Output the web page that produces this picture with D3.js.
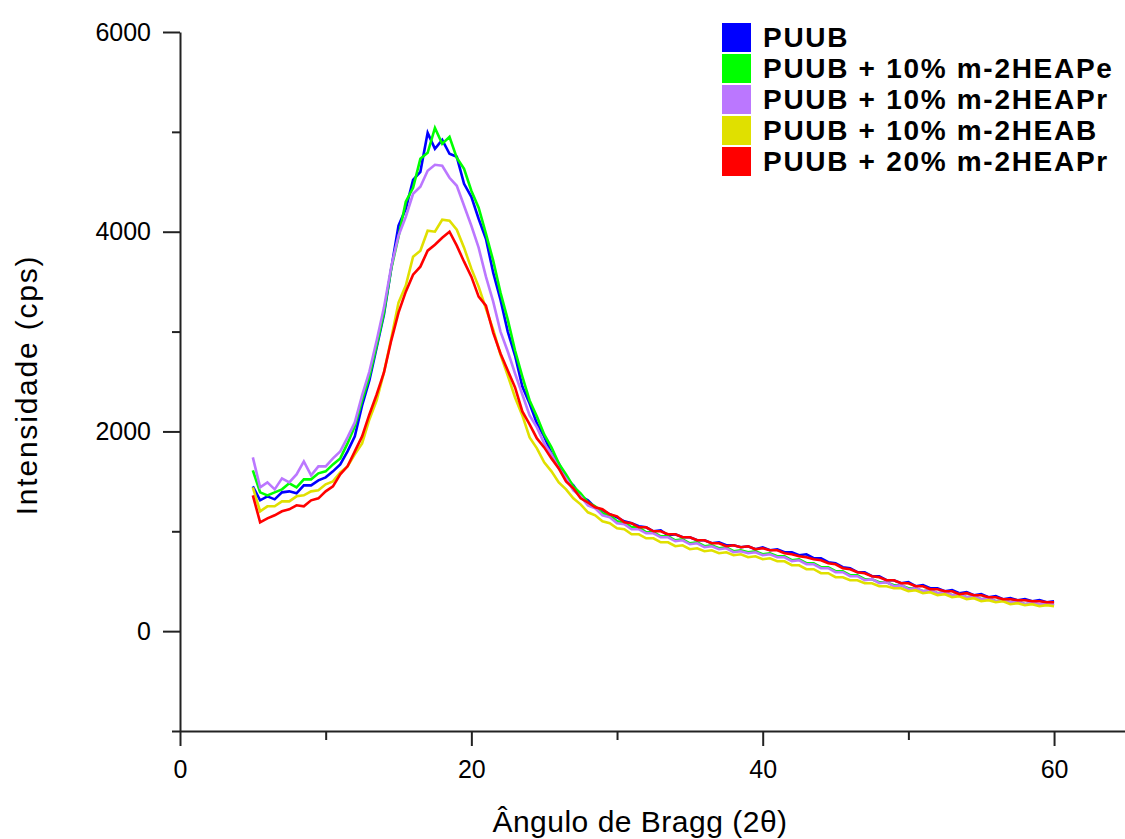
<!doctype html>
<html>
<head>
<meta charset="UTF-8">
<title>Difratograma PUUB</title>
<script src="https://d3js.org/d3.v7.min.js"></script>
<style>
  body { margin: 0; background: #fff; }
  svg text { font-family: "Liberation Sans", Arial, sans-serif; fill: #000; }
  .axis path, .axis line { stroke: #222; stroke-width: 2; }
</style>
</head>
<body>
<svg id="chart" width="1125" height="839"></svg>
<script>
// 2theta scan (degrees)
var angles = [
  5, 5.5, 6, 6.5, 7, 7.5, 8, 8.5, 9, 9.5,
  10, 10.5, 11, 11.5, 12, 12.5, 13, 13.5, 14, 14.5,
  15, 15.5, 16, 16.5, 17, 17.5, 18, 18.5, 19, 19.5,
  20, 20.5, 21, 21.5, 22, 22.5, 23, 23.5, 24, 24.5,
  25, 25.5, 26, 26.5, 27, 27.5, 28, 28.5, 29, 29.5,
  30, 30.5, 31, 31.5, 32, 32.5, 33, 33.5, 34, 34.5,
  35, 35.5, 36, 36.5, 37, 37.5, 38, 38.5, 39, 39.5,
  40, 40.5, 41, 41.5, 42, 42.5, 43, 43.5, 44, 44.5,
  45, 45.5, 46, 46.5, 47, 47.5, 48, 48.5, 49, 49.5,
  50, 50.5, 51, 51.5, 52, 52.5, 53, 53.5, 54, 54.5,
  55, 55.5, 56, 56.5, 57, 57.5, 58, 58.5, 59, 59.5,
  60
];

var names = ["PUUB", "PUUB + 10% m-2HEAPe", "PUUB + 10% m-2HEAPr", "PUUB + 10% m-2HEAB", "PUUB + 20% m-2HEAPr"];
var colors = ["#0000ff", "#00ff00", "#bb77ff", "#e0e000", "#ff0000"];

var puub = [
  1450, 1310, 1350, 1320, 1390, 1400, 1380, 1460, 1460, 1510,
  1540, 1600, 1670, 1800, 1950, 2260, 2510, 2840, 3170, 3630,
  4060, 4230, 4520, 4600, 4990, 4830, 4920, 4780, 4750, 4480,
  4350, 4130, 3930, 3590, 3320, 3000, 2760, 2450, 2280, 2080,
  1950, 1780, 1680, 1530, 1460, 1350, 1310, 1240, 1210, 1170,
  1140, 1100, 1080, 1050, 1040, 1000, 1010, 960, 970, 940,
  940, 910, 910, 880, 890, 860, 860, 840, 850, 820,
  840, 810, 820, 790, 790, 760, 770, 730, 730, 690,
  680, 640, 630, 590, 590, 550, 550, 510, 510, 480,
  490, 450, 460, 430, 430, 400, 410, 380, 390, 360,
  370, 340, 350, 320, 330, 310, 320, 300, 310, 290,
  300
];
var heape10 = [
  1610, 1390, 1360, 1390, 1420, 1480, 1440, 1520, 1520, 1580,
  1600, 1670, 1730, 1880, 2050, 2310, 2550, 2860, 3190, 3630,
  3950, 4300, 4440, 4730, 4790, 5040, 4880, 4950, 4740, 4630,
  4410, 4240, 3980, 3710, 3390, 3120, 2810, 2550, 2310, 2150,
  1970, 1840, 1680, 1570, 1450, 1380, 1290, 1250, 1180, 1160,
  1100, 1090, 1040, 1040, 990, 990, 950, 950, 910, 920,
  880, 890, 850, 860, 830, 840, 800, 810, 790, 800,
  770, 780, 750, 750, 710, 720, 680, 680, 640, 640,
  600, 600, 560, 560, 520, 520, 490, 490, 460, 460,
  430, 430, 400, 410, 380, 390, 360, 370, 340, 350,
  320, 330, 300, 310, 290, 300, 270, 280, 260, 270,
  260
];
var heapr10 = [
  1740, 1440, 1490, 1420, 1530, 1490, 1570, 1700, 1560, 1650,
  1650, 1730, 1800, 1940, 2090, 2360, 2600, 2910, 3240, 3650,
  3960, 4150, 4380, 4450, 4610, 4670, 4660, 4540, 4460, 4260,
  4060, 3840, 3550, 3300, 3000, 2800, 2580, 2370, 2160, 2040,
  1880, 1770, 1630, 1530, 1410, 1350, 1260, 1230, 1160, 1140,
  1080, 1070, 1020, 1020, 980, 980, 940, 940, 900, 910,
  870, 880, 840, 850, 820, 830, 790, 800, 780, 790,
  760, 770, 740, 740, 700, 710, 670, 670, 630, 630,
  590, 590, 550, 550, 510, 520, 480, 490, 450, 460,
  420, 430, 400, 410, 380, 390, 360, 370, 340, 350,
  320, 330, 300, 310, 290, 300, 270, 290, 270, 280,
  270
];
var heab10 = [
  1440, 1200, 1250, 1250, 1300, 1300, 1350, 1360, 1400, 1410,
  1470, 1500, 1590, 1650, 1770, 1880, 2120, 2310, 2590, 2930,
  3290, 3460, 3750, 3810, 4010, 4000, 4120, 4110, 4020, 3840,
  3630, 3450, 3230, 3020, 2770, 2560, 2340, 2160, 1940, 1830,
  1690, 1600, 1490, 1420, 1330, 1270, 1190, 1160, 1100, 1080,
  1030, 1020, 970, 970, 930, 930, 890, 890, 850, 860,
  820, 830, 800, 810, 780, 790, 760, 770, 740, 750,
  720, 730, 700, 700, 660, 660, 620, 620, 580, 580,
  540, 540, 510, 510, 480, 480, 450, 450, 430, 430,
  400, 410, 380, 390, 360, 370, 340, 350, 320, 330,
  300, 310, 290, 300, 270, 280, 260, 270, 250, 260,
  250
];
var heapr20 = [
  1360, 1090, 1130, 1160, 1200, 1220, 1260, 1250, 1310, 1330,
  1400, 1450, 1570, 1650, 1800, 1950, 2170, 2370, 2590, 2910,
  3190, 3400, 3570, 3650, 3810, 3870, 3940, 4000, 3860, 3700,
  3550, 3350, 3260, 2990, 2780, 2610, 2440, 2200, 2070, 1930,
  1840, 1730, 1630, 1500, 1430, 1330, 1290, 1240, 1220, 1170,
  1150, 1090, 1080, 1040, 1040, 1000, 1000, 970, 970, 940,
  940, 910, 910, 880, 880, 850, 860, 840, 850, 820,
  830, 810, 810, 780, 770, 750, 740, 720, 710, 680,
  670, 630, 620, 590, 580, 550, 540, 510, 510, 480,
  480, 450, 450, 420, 420, 400, 400, 370, 380, 360,
  360, 340, 340, 320, 320, 310, 310, 300, 300, 290,
  290
];

var xTicks = [0, 20, 40, 60];
var xMinor = [10, 30, 50];
var yTicks = [0, 2000, 4000, 6000];
var yMinor = [-1000, 1000, 3000, 5000];

var series = [puub, heape10, heapr10, heab10, heapr20];

var svg = d3.select("#chart");

var x = d3.scaleLinear().domain([0, 64.87]).range([180, 1125]);
var y = d3.scaleLinear().domain([-1000, 6000]).range([731, 32]);

// minor ticks first, then major axes on top
svg.append("g").attr("class", "axis")
  .attr("transform", "translate(0," + y(-1000) + ")")
  .call(d3.axisBottom(x).tickValues(xMinor).tickSize(9).tickSizeOuter(0).tickFormat(""))
  .select(".domain").remove();

svg.append("g").attr("class", "axis")
  .attr("transform", "translate(" + x(0) + ",0)")
  .call(d3.axisLeft(y).tickValues(yMinor).tickSize(8).tickSizeOuter(0).tickFormat(""))
  .select(".domain").remove();

svg.append("g").attr("class", "axis")
  .attr("transform", "translate(0," + y(-1000) + ")")
  .call(d3.axisBottom(x).tickValues(xTicks).tickSize(15).tickSizeOuter(0).tickPadding(14));

svg.append("g").attr("class", "axis")
  .attr("transform", "translate(" + x(0) + ",0)")
  .call(d3.axisLeft(y).tickValues(yTicks).tickSize(17).tickSizeOuter(0).tickPadding(12).tickFormat(d3.format("d")));

svg.selectAll(".axis text")
  .style("font-family", "'Liberation Sans', Arial, sans-serif")
  .style("font-size", "25px")
  .attr("fill", "#000");

// curves
var line = d3.line()
  .x(function (d, i) { return x(angles[i]); })
  .y(function (d) { return y(d); });

svg.append("g").selectAll("path.curve")
  .data(series)
  .enter().append("path")
  .attr("class", "curve")
  .attr("d", line)
  .attr("fill", "none")
  .attr("stroke", function (d, i) { return colors[i]; })
  .attr("stroke-width", 2.6)
  .attr("stroke-linejoin", "miter");

// legend
var legend = svg.append("g").attr("transform", "translate(722,23)");
var rows = legend.selectAll("g").data(names).enter().append("g")
  .attr("transform", function (d, i) { return "translate(0," + (i * 31) + ")"; });
rows.append("rect")
  .attr("width", 29).attr("height", 29)
  .attr("fill", function (d, i) { return colors[i]; });
rows.append("text")
  .attr("x", 41).attr("y", 24)
  .style("font-size", "28px")
  .style("font-weight", "bold")
  .style("letter-spacing", "1.7px")
  .text(function (d) { return d; });

// axis titles
svg.append("text")
  .attr("x", 640).attr("y", 832)
  .attr("text-anchor", "middle")
  .style("font-size", "30px")
  .style("letter-spacing", "0.5px")
  .text("Ângulo de Bragg (2θ)");

svg.append("text")
  .attr("transform", "translate(37,385) rotate(-90)")
  .attr("text-anchor", "middle")
  .style("font-size", "30px")
  .style("letter-spacing", "1.8px")
  .text("Intensidade (cps)");
</script>
</body>
</html>
